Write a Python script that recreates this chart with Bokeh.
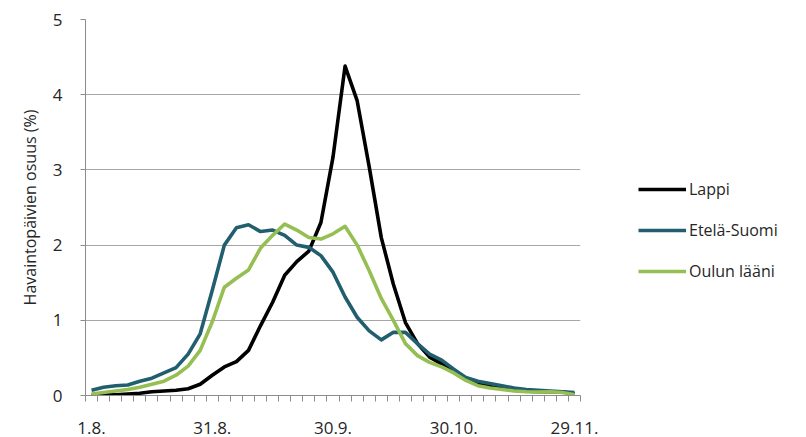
from bokeh.plotting import figure
from bokeh.models import Range1d, FixedTicker, Legend, LegendItem, ColumnDataSource, Title
from bokeh.embed import file_html
from bokeh.resources import INLINE

# 41 categories, every 3 days from 1.8. to 29.11.
tick_labels = {0: "1.8.", 10: "31.8.", 20: "30.9.", 30: "30.10.", 40: "29.11."}

lappi = [0.00, 0.01, 0.01, 0.02, 0.03, 0.05, 0.06, 0.07, 0.09, 0.15,
         0.27, 0.38, 0.45, 0.60, 0.93, 1.24, 1.60, 1.78, 1.92, 2.30,
         3.17, 4.38, 3.92, 3.04, 2.10, 1.48, 0.97, 0.69, 0.51, 0.42,
         0.33, 0.22, 0.16, 0.12, 0.09, 0.07, 0.06, 0.05, 0.05, 0.05, 0.02]

etela_suomi = [0.07, 0.11, 0.13, 0.14, 0.19, 0.23, 0.30, 0.37, 0.55, 0.82,
               1.40, 2.00, 2.23, 2.27, 2.18, 2.20, 2.13, 2.00, 1.97, 1.86,
               1.64, 1.31, 1.04, 0.86, 0.74, 0.84, 0.84, 0.69, 0.55, 0.47,
               0.35, 0.24, 0.19, 0.16, 0.13, 0.10, 0.08, 0.07, 0.06, 0.05, 0.04]

oulun_laani = [0.02, 0.04, 0.06, 0.08, 0.11, 0.15, 0.19, 0.27, 0.39, 0.60,
               0.98, 1.44, 1.56, 1.67, 1.96, 2.13, 2.28, 2.20, 2.10, 2.08,
               2.15, 2.25, 2.00, 1.66, 1.29, 1.00, 0.69, 0.53, 0.44, 0.38,
               0.30, 0.20, 0.13, 0.10, 0.08, 0.06, 0.05, 0.045, 0.05, 0.04, 0.01]

series_names = ["Lappi", "Etelä-Suomi", "Oulun lääni"]
series_values = [lappi, etela_suomi, oulun_laani]
colors = ["#000000", "#215E6E", "#95BF52"]
y_title = "Havaintopäivien osuus (%)"

x = list(range(len(lappi)))

FONT = "Open Sans"
TEXT_COLOR = "#262626"

p = figure(frame_width=495, frame_height=376, output_backend="svg", toolbar_location=None,
           x_range=Range1d(-0.5, 40.5), y_range=Range1d(0, 5),
           min_border_left=85, min_border_right=10, min_border_top=19,
           min_border_bottom=42)
p.outline_line_color = None
p.background_fill_color = "white"
p.border_fill_color = "white"

renderers = []
for name, vals, c in zip(series_names, series_values, colors):
    src = ColumnDataSource(dict(x=x, y=vals))
    r = p.line("x", "y", source=src, line_color=c, line_width=3.6, line_join="round")
    renderers.append((name, r))

# x axis
p.xaxis.ticker = FixedTicker(ticks=list(tick_labels.keys()),
                             minor_ticks=[i - 0.5 for i in range(42)])
p.xaxis.major_label_overrides = {k: v for k, v in tick_labels.items()}
p.xaxis.major_tick_out = 0
p.xaxis.major_tick_in = 0
p.xaxis.minor_tick_out = 6
p.xaxis.minor_tick_in = 0
p.xaxis.axis_line_color = "#8c8c8c"
p.xaxis.minor_tick_line_color = "#8c8c8c"
p.xaxis.major_label_text_font = FONT
p.xaxis.major_label_text_font_size = "17px"
p.xaxis.major_label_text_color = TEXT_COLOR
p.xaxis.major_label_standoff = 20
p.xgrid.grid_line_color = None

# y axis
p.yaxis.ticker = FixedTicker(ticks=[0, 1, 2, 3, 4, 5])
p.yaxis.major_tick_out = 5
p.yaxis.major_tick_in = 0
p.yaxis.minor_tick_line_color = None
p.yaxis.axis_line_color = "#8c8c8c"
p.yaxis.major_tick_line_color = "#8c8c8c"
p.yaxis.major_label_text_font = FONT
p.yaxis.major_label_text_font_size = "17px"
p.yaxis.major_label_text_color = TEXT_COLOR
p.yaxis.major_label_standoff = 18
p.ygrid.grid_line_color = "#a6a6a6"
p.ygrid.grid_line_width = 1

p.add_layout(Title(text=y_title, align="center", offset=20, standoff=18,
                   text_font=FONT, text_font_size="16px", text_font_style="normal",
                   text_color=TEXT_COLOR), "left")

legend = Legend(items=[LegendItem(label=n, renderers=[r]) for n, r in renderers],
                location=(58, 113), orientation="vertical",
                glyph_width=48, glyph_height=20, spacing=19, padding=0, margin=0,
                label_standoff=3, label_text_font=FONT, label_text_font_size="16px",
                label_text_color=TEXT_COLOR, border_line_color=None,
                background_fill_alpha=0)
p.add_layout(legend, "right")

open("out.html", "w").write(file_html(p, INLINE))
